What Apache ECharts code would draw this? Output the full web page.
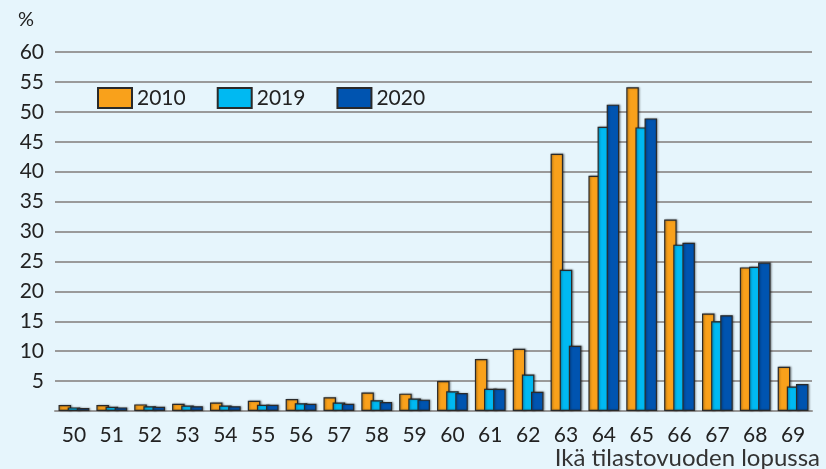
<!DOCTYPE html>
<html><head><meta charset="utf-8">
<script src="https://cdn.jsdelivr.net/npm/echarts@6/dist/echarts.min.js"></script>
<style>html,body{margin:0;padding:0;background:#E6F5FC;}#c{width:826px;height:469px;}</style>
</head><body><div id="c"></div>
<script>
const categories = ['50','51','52','53','54','55','56','57','58','59','60','61','62','63','64','65','66','67','68','69'];
const s2010 = [1.0,1.0,1.1,1.2,1.4,1.7,2.0,2.3,3.1,2.9,5.0,8.7,10.4,43.0,39.3,54.1,32.0,16.3,24.0,7.4];
const s2019 = [0.6,0.7,0.8,0.9,0.9,1.05,1.3,1.4,1.8,2.1,3.3,3.7,6.1,23.6,47.5,47.4,27.8,15.0,24.1,4.1];
const s2020 = [0.5,0.6,0.7,0.8,0.8,1.05,1.2,1.2,1.5,1.9,3.0,3.7,3.2,10.9,51.2,48.9,28.1,16.0,24.8,4.5];
const yTicks = [0,5,10,15,20,25,30,35,40,45,50,55,60];
const seriesNames = ['2010','2019','2020'];
const colors = ['#F9A11B','#00B9F2','#0054B0'];
const font = 'Lato, "Open Sans", sans-serif';
const chart = echarts.init(document.getElementById('c'));
const mk = (name, data, i) => ({
  name, type:'bar', data, barWidth:12.5, barGap:'-27%', barCategoryGap:'17%',
  itemStyle:{color:colors[i], borderColor:'#2a2a2a', borderWidth:1.2,
    shadowColor:'rgba(0,0,0,0.35)', shadowBlur:2, shadowOffsetX:1, shadowOffsetY:0},
  animation:false
});
chart.setOption({
  backgroundColor:'#E6F5FC',
  animation:false,
  grid:{left:55, right:14, top:52, bottom:58},
  legend:{left:92, top:82, icon:'rect', itemWidth:34, itemHeight:20, itemGap:31,
    textStyle:{fontFamily:font, fontSize:21, color:'#222'},
    data:seriesNames},
  xAxis:{type:'category', data:categories,
    axisLine:{lineStyle:{color:'#999', width:2}}, axisTick:{show:false},
    axisLabel:{fontFamily:font, fontSize:21, color:'#222', margin:14}},
  yAxis:{type:'value', min:0, max:60, interval:5,
    axisLine:{show:false}, axisTick:{show:false},
    splitLine:{lineStyle:{color:'#9a9a9a', width:2}},
    axisLabel:{fontFamily:font, fontSize:21, color:'#222', margin:11,
      formatter:v=> yTicks.includes(v)? (v===0?'':String(v)) : ''}},
  graphic:[
    {type:'text', left:18, top:10, style:{text:'%', fontFamily:font, fontSize:20, fill:'#222'}},
    {type:'text', right:6, top:446, style:{text:'Ikä tilastovuoden lopussa', fontFamily:font, fontSize:24, fill:'#333'}}
  ],
  series:[mk('2010',s2010,0), mk('2019',s2019,1), mk('2020',s2020,2)]
});
</script></body></html>
